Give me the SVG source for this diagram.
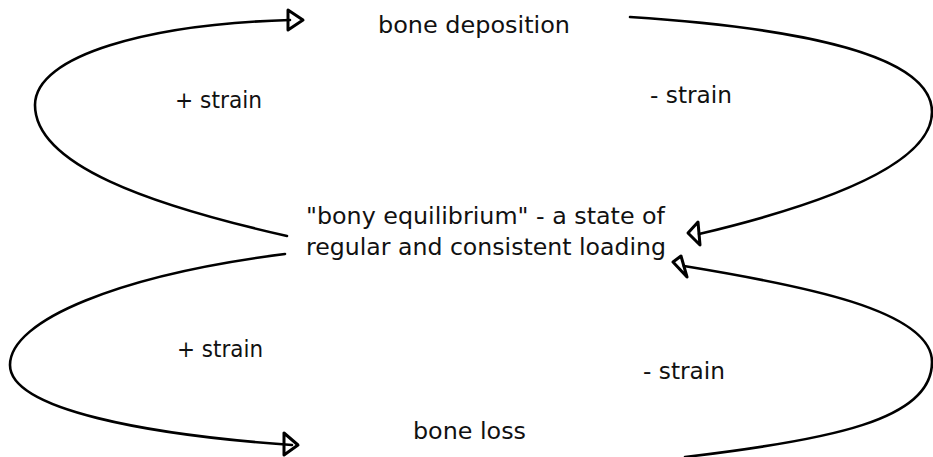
<svg xmlns="http://www.w3.org/2000/svg" width="933" height="457" viewBox="0 0 933 457">
<style>
.t{font-family:"DejaVu Sans","Liberation Sans",sans-serif;font-size:23.5px;fill:#111}
.c{fill:none;stroke:#000;stroke-width:2.6;stroke-linecap:round;stroke-linejoin:round}
.h{fill:none;stroke:#000;stroke-width:3;stroke-linejoin:round}
</style>
<rect width="933" height="457" fill="#fff"/>
<g id="connectors">
<path class="c" d="M287,236 C150,205 35,165 35,105 C35,55 150,24 290,20"/>
<path class="h" d="M288,10 L288,30 L303,20 Z"/>
<path class="c" d="M630,17 C800,28 932,55 932,112 C932,170 800,210 699,234"/>
<path class="h" d="M698,222 L700,245 L688,233 Z"/>
<path class="c" d="M285,254 C120,275 10,320 10,365 C10,410 150,435 292,445"/>
<path class="h" d="M284,433 L284,455 L298,445 Z"/>
<path class="c" d="M685,457 C830,440 932,420 932,362 C932,310 800,285 684,266"/>
<path class="h" d="M681,256 L687,277 L673,262 Z"/>
</g>
<g id="bone-deposition"><text class="t" x="378" y="33" textLength="192" lengthAdjust="spacingAndGlyphs">bone deposition</text></g>
<g id="equilibrium">
<text class="t" x="306" y="224" textLength="359" lengthAdjust="spacingAndGlyphs">"bony equilibrium" - a state of</text>
<text class="t" x="306" y="255" textLength="360" lengthAdjust="spacingAndGlyphs">regular and consistent loading</text>
</g>
<g id="bone-loss"><text class="t" x="413" y="439" textLength="113" lengthAdjust="spacingAndGlyphs">bone loss</text></g>
<g id="label-plus-top"><text class="t" x="175" y="108" textLength="87" lengthAdjust="spacingAndGlyphs">+ strain</text></g>
<g id="label-minus-top"><text class="t" x="650" y="103" textLength="82" lengthAdjust="spacingAndGlyphs">- strain</text></g>
<g id="label-plus-bottom"><text class="t" x="177" y="357" textLength="86" lengthAdjust="spacingAndGlyphs">+ strain</text></g>
<g id="label-minus-bottom"><text class="t" x="643" y="379" textLength="82" lengthAdjust="spacingAndGlyphs">- strain</text></g>
</svg>
